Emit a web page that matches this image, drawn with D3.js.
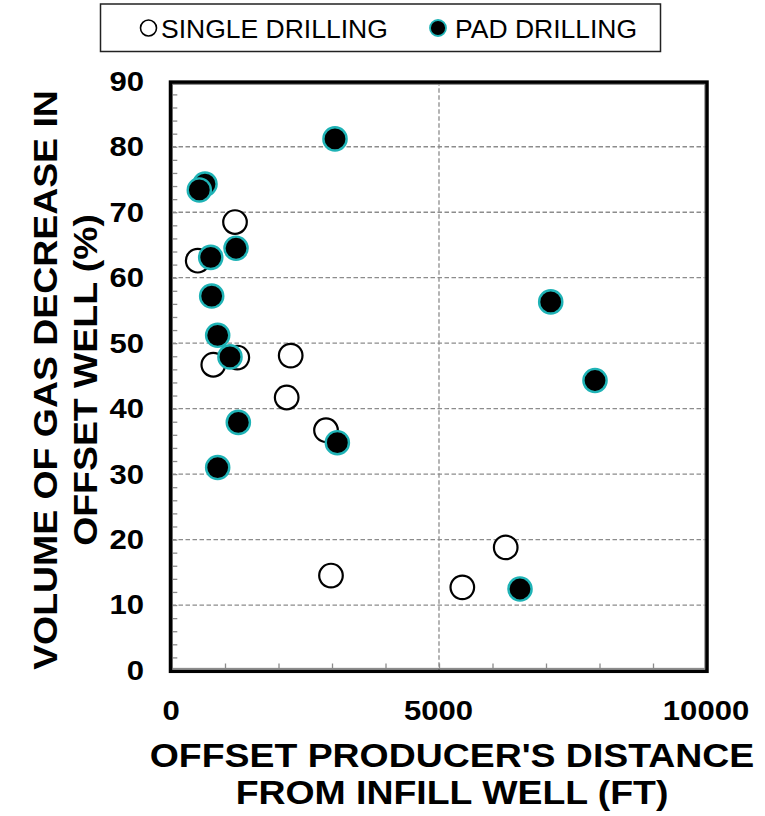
<!DOCTYPE html>
<html>
<head>
<meta charset="utf-8">
<script src="https://cdn.jsdelivr.net/npm/d3@7/dist/d3.min.js"></script>
<style>
  html, body { margin: 0; padding: 0; background: #fff; }
  svg { display: block; }
  text { font-family: "Liberation Sans", Arial, sans-serif; fill: #000; }
</style>
</head>
<body>
<svg id="chart" width="765" height="816"></svg>
<script>
// Offset producer distance (ft) and gas volume decrease (%) per well
const singleDistance = [1187, 490, 1230, 781, 2228, 2153, 2888, 2981, 5436, 6247];
const singleDecrease = [68.5, 62.6, 47.8, 46.7, 48.1, 41.7, 36.7, 14.5, 12.7, 18.8];

const padDistance = [626, 520, 1206, 733, 751, 863, 1093, 1249, 3100, 863, 6514, 7088, 7916, 3056];
const padDecrease = [74.3, 73.4, 64.5, 63.1, 57.2, 51.2, 47.9, 37.9, 34.8, 31.0, 12.45, 56.3, 44.3, 81.2];

const xTicks = [0, 5000, 10000];
const yTicks = [0, 10, 20, 30, 40, 50, 60, 70, 80, 90];
const xMinorTicks = d3.range(0, 10001, 1000);
const yMinorTicks = d3.range(0, 91, 2);

const legendLabels = ["SINGLE DRILLING", "PAD DRILLING"];
const xTitle = ["OFFSET PRODUCER'S DISTANCE", "FROM INFILL WELL (FT)"];
const yTitle = ["VOLUME OF GAS DECREASE IN", "OFFSET WELL (%)"];

const TEAL = "#1fb3b6";
const GRID = "#8c8c8c";

const svg = d3.select("#chart");
const plot = { left: 171.5, right: 706.5, top: 81.3, bottom: 670.5 };

const x = d3.scaleLinear().domain([0, 10000]).range([plot.left, plot.right]);
const y = d3.scaleLinear().domain([0, 90]).range([plot.bottom, plot.top]);

// dashed gridlines
const grid = svg.append("g");
grid.selectAll("line.hy").data(yTicks.filter(v => v > 0 && v < 90)).join("line")
  .attr("x1", plot.left).attr("x2", plot.right)
  .attr("y1", d => y(d)).attr("y2", d => y(d))
  .attr("stroke", GRID).attr("stroke-width", 1.3).attr("stroke-dasharray", "4.5,2.5");
grid.selectAll("line.vx").data(xTicks.filter(v => v > 0 && v < 10000)).join("line")
  .attr("y1", plot.top).attr("y2", plot.bottom)
  .attr("x1", d => x(d)).attr("x2", d => x(d))
  .attr("stroke", GRID).attr("stroke-width", 1.3).attr("stroke-dasharray", "4.5,2.5");

// inner gray axis lines with inward minor ticks
const axisG = svg.append("g");
axisG.append("rect")
  .attr("x", plot.left + 0.8).attr("y", plot.top + 3)
  .attr("width", plot.right - plot.left - 2.4).attr("height", plot.bottom - plot.top - 5)
  .attr("fill", "none").attr("stroke", GRID).attr("stroke-width", 1.3);

const yAxis = d3.axisRight(y).tickValues(yMinorTicks).tickSize(5).tickFormat("");
axisG.append("g").attr("transform", `translate(${plot.left + 0.8},0)`).call(yAxis)
  .call(g => g.select(".domain").remove())
  .call(g => g.selectAll("line").attr("stroke", GRID).attr("stroke-width", 1.3));

const xAxis = d3.axisTop(x).tickValues(xMinorTicks.filter(v => v > 0 && v < 10000)).tickSize(5).tickFormat("");
axisG.append("g").attr("transform", `translate(0,${plot.bottom - 2})`).call(xAxis)
  .call(g => g.select(".domain").remove())
  .call(g => g.selectAll("line").attr("stroke", GRID).attr("stroke-width", 1.3));

// black plot frame
svg.append("rect")
  .attr("x", plot.left - 1).attr("y", plot.top + 0.8)
  .attr("width", plot.right - plot.left + 1.5).attr("height", plot.bottom - plot.top)
  .attr("fill", "none").attr("stroke", "#000").attr("stroke-width", 3.5);

// tick labels (wide bold face)
svg.append("g").selectAll("text").data(yTicks).join("text")
  .attr("transform", d => `translate(144,${y(d)}) scale(1.15,1)`)
  .attr("dy", "0.35em")
  .attr("text-anchor", "end").attr("font-weight", "bold").attr("font-size", 27)
  .text(d => d);

svg.append("g").selectAll("text").data(xTicks).join("text")
  .attr("transform", d => `translate(${x(d) - 0.5},720) scale(1.15,1)`)
  .attr("text-anchor", "middle").attr("font-weight", "bold").attr("font-size", 27)
  .text(d => d);

// axis titles
svg.append("g").selectAll("text").data(xTitle).join("text")
  .attr("transform", (d, i) => `translate(452,${767 + i * 37}) scale(1.1,1)`)
  .attr("text-anchor", "middle").attr("font-weight", "bold").attr("font-size", 34)
  .text(d => d);

svg.append("g").selectAll("text").data(yTitle).join("text")
  .attr("transform", (d, i) => `translate(${57 + i * 40},380) rotate(-90) scale(1.1,1)`)
  .attr("text-anchor", "middle").attr("font-weight", "bold").attr("font-size", 34)
  .text(d => d);

// points: single drilling under pad drilling
const single = singleDistance.map((d, i) => ({ x: d, y: singleDecrease[i] }));
const pad = padDistance.map((d, i) => ({ x: d, y: padDecrease[i] }));

svg.append("g").selectAll("circle").data(single).join("circle")
  .attr("cx", d => x(d.x)).attr("cy", d => y(d.y)).attr("r", 11.8)
  .attr("fill", "#fff").attr("stroke", "#000").attr("stroke-width", 2.2);

svg.append("g").selectAll("circle").data(pad).join("circle")
  .attr("cx", d => x(d.x)).attr("cy", d => y(d.y)).attr("r", 11.6)
  .attr("fill", "#000").attr("stroke", TEAL).attr("stroke-width", 2.4);

// legend
const legend = svg.append("g");
legend.append("rect")
  .attr("x", 100.5).attr("y", 4).attr("width", 560).attr("height", 47.5)
  .attr("fill", "#fff").attr("stroke", "#222").attr("stroke-width", 1.5);
legend.append("circle").attr("cx", 148.5).attr("cy", 28).attr("r", 8)
  .attr("fill", "#fff").attr("stroke", "#000").attr("stroke-width", 1.6);
legend.append("circle").attr("cx", 438).attr("cy", 28).attr("r", 8)
  .attr("fill", "#000").attr("stroke", TEAL).attr("stroke-width", 1.8);
legend.selectAll("text").data(legendLabels).join("text")
  .attr("x", (d, i) => i === 0 ? 161 : 455).attr("y", 37.5)
  .attr("font-size", 26.5)
  .text(d => d);
</script>
</body>
</html>
